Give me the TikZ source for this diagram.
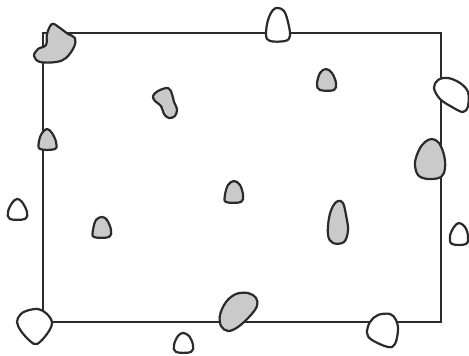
\documentclass[tikz,border=0pt]{standalone}
\usetikzlibrary{patterns}
\definecolor{ink}{HTML}{2B2B2B}
\definecolor{grainfill}{HTML}{CACACA}
\begin{document}
\begin{tikzpicture}[x=1pt,y=-1pt,
  frame/.style={draw=ink,line width=1.6pt},
  grain/.style={draw=ink,line width=2.2pt,fill=grainfill,line join=round},
  stone/.style={draw=ink,line width=2.2pt,fill=white,line join=round}]
\useasboundingbox (0,0) rectangle (469,356);
% frame
\coordinate (tl) at (43,33);
\coordinate (tr) at (441,33);
\coordinate (br) at (441,322);
\coordinate (bl) at (43,322);
\draw[frame] (tl) -- (tr) -- (br) -- (bl) -- cycle;
% grains (grey)
\draw[grain] plot[smooth cycle,tension=0.6] coordinates {(52,24) (60,28) (68,34) (75,38) (74,47) (66,58) (56,62) (40,62) (34,56) (38,49) (46,45) (47,34)};
\draw[grain] plot[smooth cycle,tension=0.6] coordinates {(326,69) (332,73) (336,83) (334,90) (320,90) (317,84) (320,73)};
\draw[grain] plot[smooth cycle,tension=0.6] coordinates {(153,96) (158,91) (168,88) (172,94) (174,102) (177,109) (175,116) (169,118) (164,114) (161,106) (155,101)};
\draw[grain] plot[smooth cycle,tension=0.6] coordinates {(425,142) (432,139) (439,143) (444,155) (445,168) (441,177) (428,179) (418,175) (415,163) (419,150)};
\draw[grain] plot[smooth cycle,tension=0.6] coordinates {(47,129) (52,133) (56,142) (55,149) (40,149) (39,141) (42,133)};
\draw[grain] plot[smooth cycle,tension=0.6] coordinates {(102,217) (107,220) (111,230) (109,237) (94,237) (93,230) (96,220)};
\draw[grain] plot[smooth cycle,tension=0.6] coordinates {(234,181) (240,185) (243,195) (241,202) (226,202) (225,195) (228,185)};
\draw[grain] plot[smooth cycle,tension=0.6] coordinates {(338,201) (343,203) (346,215) (348,230) (344,242) (333,243) (328,235) (329,218) (333,206)};
\draw[grain] plot[smooth cycle,tension=0.6] coordinates {(236,294) (248,293) (256,298) (257,306) (250,316) (238,327) (228,331) (221,326) (220,315) (226,302)};
% stones (white)
\draw[stone] plot[smooth cycle,tension=0.6] coordinates {(278,8) (284,11) (288,22) (290,36) (285,41) (270,41) (266,35) (268,20) (273,10)};
\draw[stone] plot[smooth cycle,tension=0.6] coordinates {(434,88) (438,80) (448,78) (460,83) (468,92) (468,106) (463,112) (452,107) (440,99)};
\draw[stone] plot[smooth cycle,tension=0.6] coordinates {(17,199) (22,202) (27,212) (25,219) (10,219) (8,212) (12,203)};
\draw[stone] plot[smooth cycle,tension=0.6] coordinates {(26,311) (38,309) (47,314) (52,323) (47,334) (37,344) (30,341) (21,331) (17,322) (20,315)};
\draw[stone] plot[smooth cycle,tension=0.6] coordinates {(183,333) (189,336) (193,345) (191,352) (176,352) (174,345) (178,336)};
\draw[stone] plot[smooth cycle,tension=0.6] coordinates {(378,315) (390,314) (396,320) (398,330) (395,344) (388,347) (372,340) (367,333) (370,322)};
\draw[stone] plot[smooth cycle,tension=0.6] coordinates {(459,223) (465,227) (468,236) (466,244) (452,244) (450,236) (454,227)};
\end{tikzpicture}
\end{document}
